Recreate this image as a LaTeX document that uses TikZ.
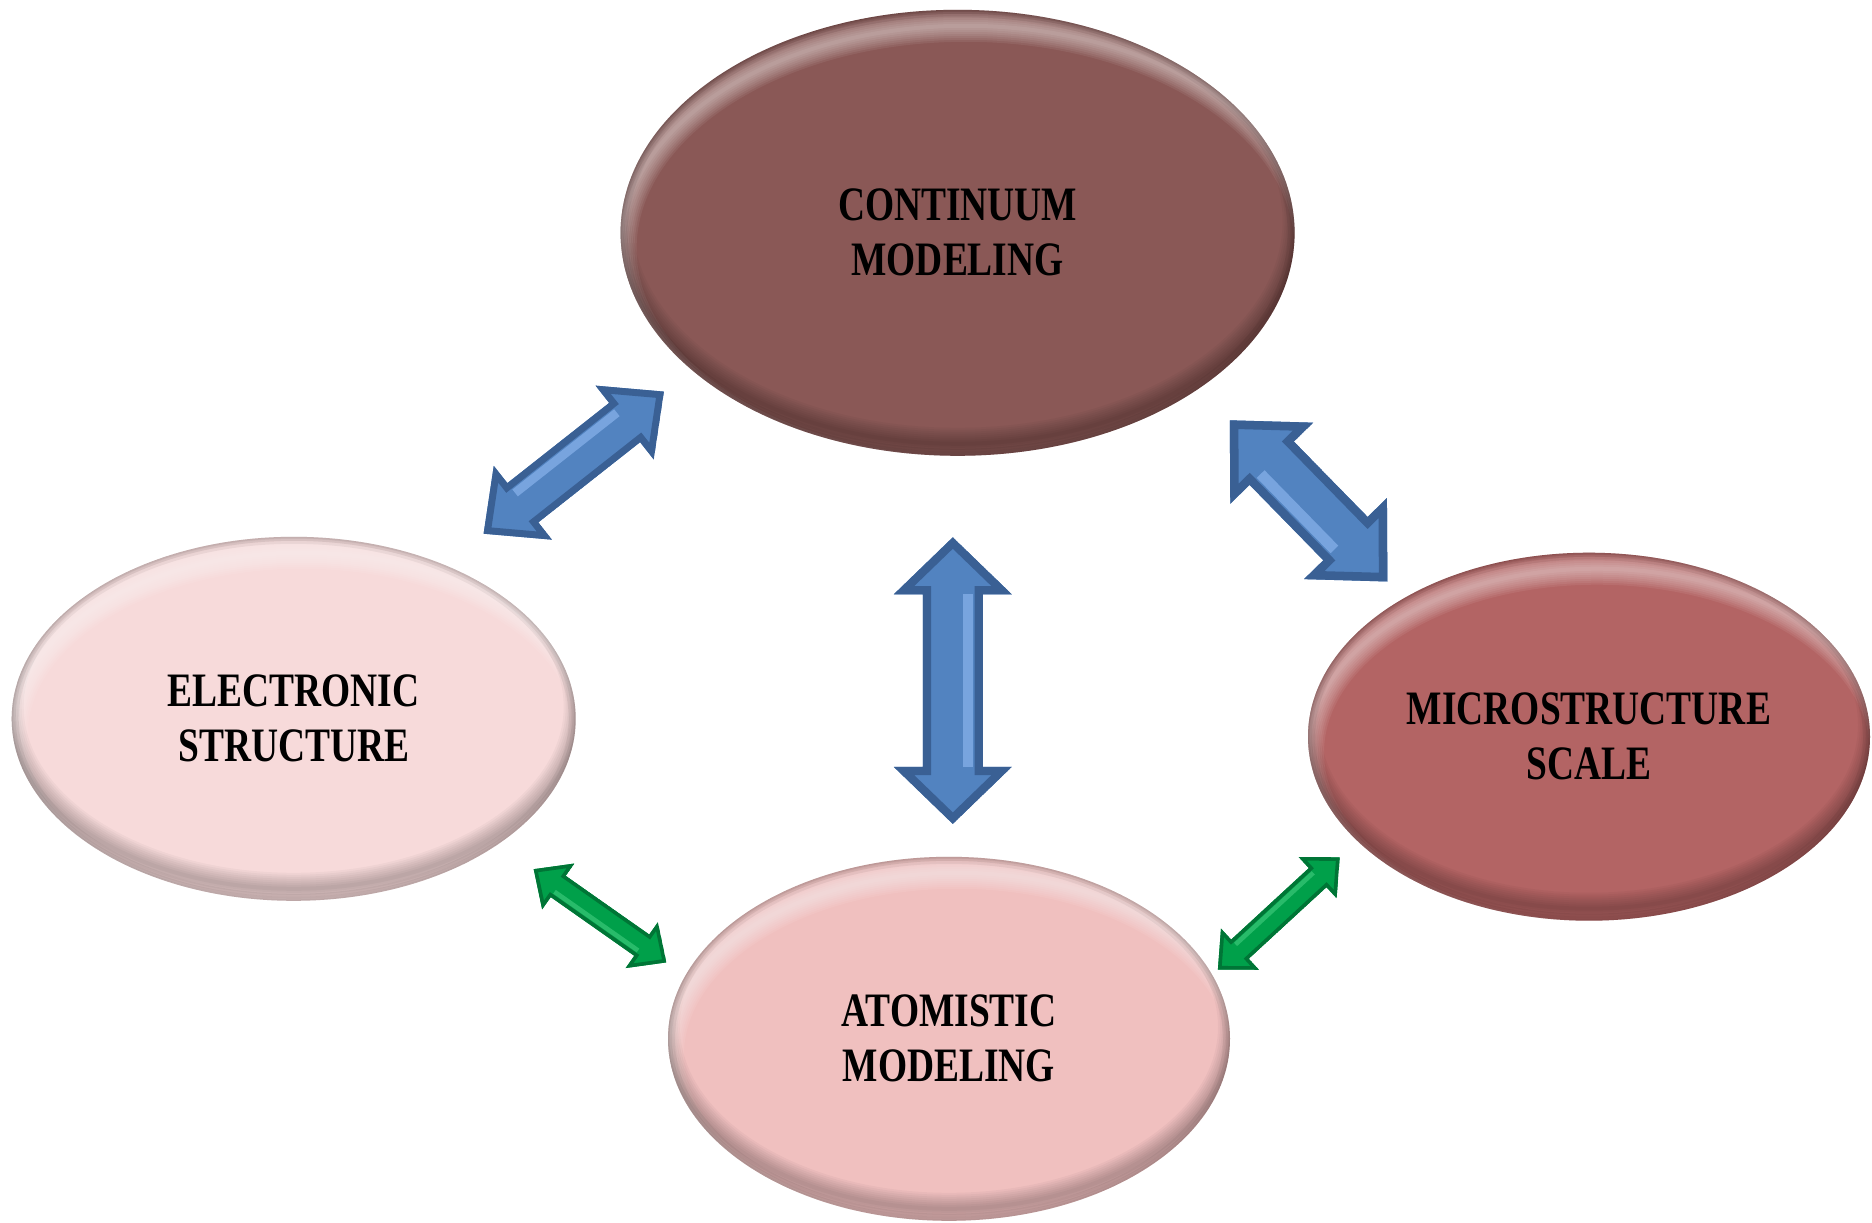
\documentclass[tikz,border=0pt]{standalone}
\usepackage{fontspec}
\newfontfamily\algfont{Liberation Serif}[FakeStretch=0.78]
\usetikzlibrary{shapes.geometric,calc}
\definecolor{contc}{HTML}{8A5856}
\definecolor{elecc}{HTML}{F7DADA}
\definecolor{microc}{HTML}{B36464}
\definecolor{atomc}{HTML}{F0C0BF}
\definecolor{arrblue}{HTML}{5283C0}
\definecolor{arrbluedk}{HTML}{3A6094}
\definecolor{arrbluelt}{HTML}{7FAAE4}
\definecolor{arrgreen}{HTML}{00A04A}
\definecolor{arrgreendk}{HTML}{007536}
\definecolor{arrgreenlt}{HTML}{30C070}
\newcommand\blockarrow[9]{%
 \coordinate (ba1) at ($(#1)!#3!(#2)$);
 \coordinate (ba2) at ($(#2)!#3!(#1)$);
 \def\bapoly{(#1) -- ($(ba1)!#4!90:(#2)$) -- ($(ba1)!#5!90:(#2)$) -- ($(ba2)!#5!90:(#2)$) -- ($(ba2)!#4!90:(#2)$) -- (#2) -- ($(ba2)!#4!-90:(#2)$) -- ($(ba2)!#5!-90:(#2)$) -- ($(ba1)!#5!-90:(#2)$) -- ($(ba1)!#4!-90:(#2)$) -- cycle}%
 \begin{scope}
  \clip \bapoly;
  \fill[#6] \bapoly;
  \draw[#7, line width=0.55*#5] \bapoly;
  \draw[#8, opacity=0.85, line width=0.35*#5] ($(ba1)!{0.5*#5}!#9:(#2)$) -- ($(ba2)!{0.5*#5}!#9:(#2)$);
 \end{scope}}
\tikzset{
 bubble/.style n args={3}{ellipse, inner sep=0pt, fill=#1,
   minimum width=2*#2, minimum height=2*#3,
   font=\algfont\bfseries\fontsize{48}{55}\selectfont, align=center, text=black,
   path picture={
     \foreach \lw in {32,28,24,20,16,12,8,4}{
       \draw[white, opacity=0.065, line width=\lw pt]
         ([shift={(8pt,-16pt)}]path picture bounding box.center)
         ellipse [x radius=#2pt+8pt, y radius=#3pt];
       \draw[black, opacity=0.03, line width=\lw pt]
         ([shift={(0pt,12pt)}]path picture bounding box.center)
         ellipse [x radius=#2pt+4pt, y radius=#3pt];
     }
     \foreach \lw in {14,8,3}{
       \draw[black, opacity=0.05, line width=\lw pt]
         (path picture bounding box.center) ellipse [x radius=#2pt, y radius=#3pt];
     }
   }}
}
\begin{document}
\begin{tikzpicture}[x=1pt,y=-1pt]
\useasboundingbox (0,0) rectangle (1872,1223);
\node[bubble={contc}{337}{223}] (cont) at (957.6,232.8) {CONTINUUM\\MODELING};
\node[bubble={elecc}{282}{182}] (elec) at (293.7,718.8) {ELECTRONIC\\STRUCTURE};
\node[bubble={microc}{281}{184}] (micro) at (1589,736.7) {MICROSTRUCTURE\\SCALE};
\node[bubble={atomc}{281}{182}] (atom) at (949,1038.8) {ATOMISTIC\\MODELING};
% arrow ends
\coordinate (b1s) at (483.6,533.7);  \coordinate (b1e) at (663.9,391.6);
\coordinate (b2s) at (952.8,537.3);  \coordinate (b2e) at (952.8,823.9);
\coordinate (b3s) at (1229.8,420.3); \coordinate (b3e) at (1387.4,581.5);
\coordinate (g1s) at (533.7,869.2);  \coordinate (g1e) at (666.3,962.4);
\coordinate (g2s) at (1217.9,969.5); \coordinate (g2e) at (1339.7,857.3);
\blockarrow{b1s}{b1e}{50pt}{47pt}{25pt}{arrblue}{arrbluedk}{arrbluelt}{90}
\blockarrow{b2s}{b2e}{57pt}{59pt}{30pt}{arrblue}{arrbluedk}{arrbluelt}{90}
\blockarrow{b3s}{b3e}{60pt}{58pt}{31pt}{arrblue}{arrbluedk}{arrbluelt}{-90}
\blockarrow{g1s}{g1e}{30pt}{28pt}{13pt}{arrgreen}{arrgreendk}{arrgreenlt}{-90}
\blockarrow{g2s}{g2e}{30pt}{28pt}{13pt}{arrgreen}{arrgreendk}{arrgreenlt}{90}
\end{tikzpicture}
\end{document}
